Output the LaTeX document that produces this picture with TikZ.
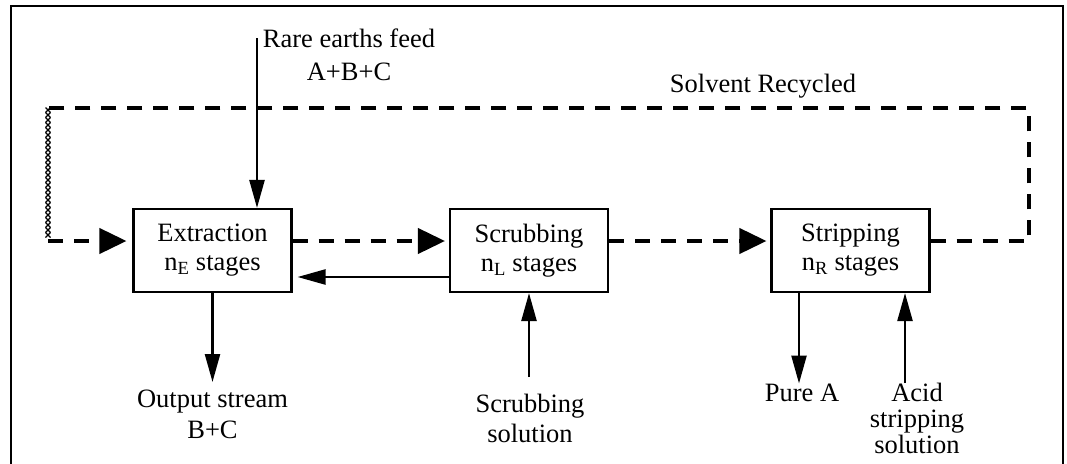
\documentclass[tikz,border=0pt]{standalone}
\usepackage{fontspec}
\setmainfont{Liberation Serif}
\usetikzlibrary{arrows.meta,calc}
\begin{document}
\begin{tikzpicture}[x=1pt,y=-1pt,
  txt/.style={font=\fontsize{26.5}{#1}\selectfont, inner sep=0pt, align=center},
  txt/.default=30,
  stage/.style={draw, line width=2.1pt, minimum width=158pt, minimum height=83pt,
    inner sep=0pt, txt=29},
  flow/.style={line width=2.4pt, -{Triangle[length=28pt,width=15pt]}},
  recycle/.style={line width=4pt, dash pattern=on 15pt off 11pt},
  recyclearrow/.style={recycle, -{Triangle[length=27pt,width=25pt]}, shorten >=4pt},
  hatch/.style={line width=1.4pt},
]
\useasboundingbox (0,0) rectangle (1067,463);

% outer frame (open at the bottom edge of the page)
\begin{scope}
  \clip (0,0) rectangle (1067,463);
  \draw[line width=2.8pt] (11,480) -- (11,6) -- (1063,6) -- (1063,480);
\end{scope}

% the three stage blocks
\node[stage] (ext) at (212.5,250.5) {Extraction\\n\textsubscript{E} stages};
\node[stage] (scr) at (529,250.5) {Scrubbing\\n\textsubscript{L} stages};
\node[stage] (str) at (850.5,250.5) {Stripping\\n\textsubscript{R} stages};

% stream labels
\node[txt=33, anchor=north] (feed) at (349,29) {Rare earths feed\\A+B+C};
\node[txt, anchor=base] (recyc) at (763,92) {Solvent Recycled};
\node[txt=31, anchor=north] (out) at (212.5,390) {Output stream\\B+C};
\node[txt=30, anchor=north] (scrsol) at (530,394) {Scrubbing\\solution};
\node[txt, anchor=north] (pure) at (802,383.5) {Pure A};
\node[txt=26, anchor=north] (acid) at (917,383) {Acid\\stripping\\solution};

% helper points
\coordinate (feedin) at (257,38);
\coordinate (extR) at ([yshift=9.5pt]ext.east);
\coordinate (scrR) at ([yshift=9.5pt]scr.east);
\coordinate (strR) at ([yshift=9.5pt]str.east);
\coordinate (scrL) at ([yshift=-26.5pt]scr.west);
\coordinate (sd) at ([xshift=-51.5pt]str.south);
\coordinate (su) at ([xshift=54.5pt]str.south);
\coordinate (ne) at (1029,108);
\coordinate (nw) at (48,108);
\coordinate (sw) at (48,241);

% aqueous / feed streams
\draw[flow] (feedin) -- (feedin |- ext.north);
\draw[flow, shorten >=8pt] (ext.south) -- (ext.south |- out.north);
\draw[flow, shorten <=17pt] (scr.south |- scrsol.north) -- (scr.south);
\draw[flow, shorten >=5pt] (scrL) -- (scrL -| ext.east);
\draw[flow] (sd) -- (sd |- pure.north);
\draw[flow] (su |- acid.north) -- (su);

% organic (solvent) stream
\draw[recyclearrow] (extR) -- (extR -| scr.west);
\draw[recyclearrow] (scrR) -- (scrR -| str.west);
\draw[recycle] (strR) -| (ne) -- (nw);
\foreach \yy in {110,115,...,236}
  \draw[hatch] (45.5,\yy-2.5) -- (50.5,\yy+2.5) (45.5,\yy+2.5) -- (50.5,\yy-2.5);
\draw[recyclearrow, shorten >=6pt] (sw) -- (sw -| ext.west);
\end{tikzpicture}
\end{document}
